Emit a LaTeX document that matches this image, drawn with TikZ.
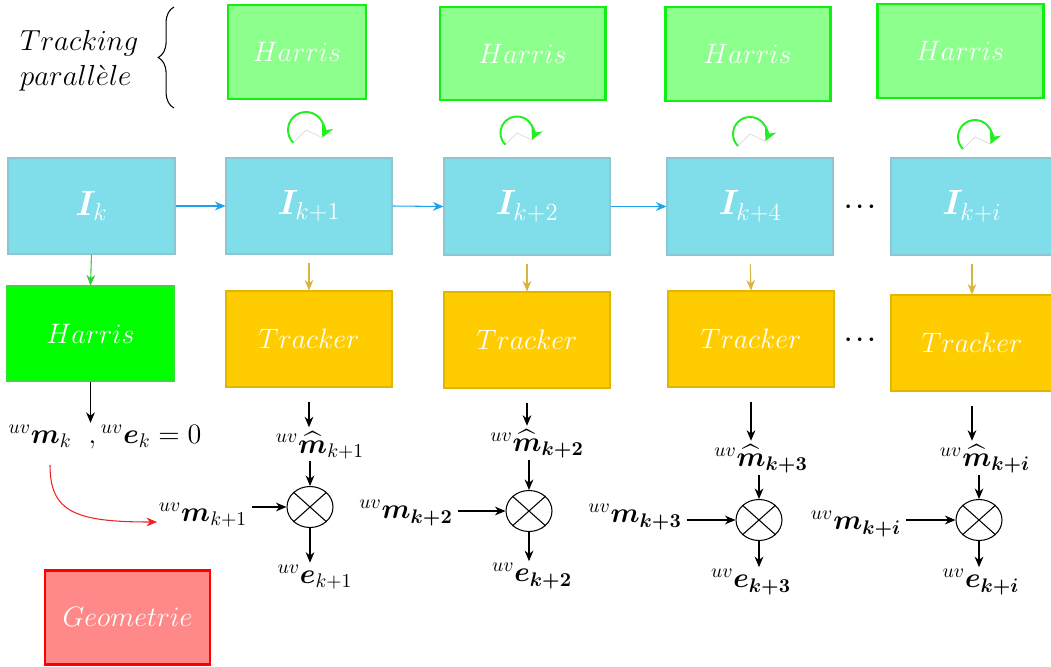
\RequirePackage{fix-cm}
\documentclass[tikz,border=0pt]{standalone}
\usepackage{amsmath,bm}
\usetikzlibrary{arrows.meta,decorations.pathreplacing,shapes.geometric,calc}
\definecolor{cyanfill}{HTML}{80DEEA}
\definecolor{cyanedge}{HTML}{8CC6D2}
\definecolor{harrlight}{HTML}{8CFF8C}
\definecolor{harredge}{HTML}{11EE11}
\definecolor{harrmaincol}{HTML}{00FF00}
\definecolor{harrmainedge}{HTML}{33DD33}
\definecolor{trackfill}{HTML}{FFCC00}
\definecolor{trackedge}{HTML}{E2B600}
\definecolor{geofill}{HTML}{FF8888}
\definecolor{geoedge}{HTML}{FF0000}
\definecolor{bluearr}{HTML}{1CA3EC}
\definecolor{goldarr}{HTML}{D8B440}
\definecolor{greenarr}{HTML}{33CC33}
\definecolor{arcgreen}{HTML}{22EE22}
\definecolor{redarr}{HTML}{EE2222}
\tikzset{
 nodebox/.style={inner sep=0pt, line width=0.6pt, text=white, font=\fontsize{16}{19}\selectfont},
 sz/.style 2 args={minimum width=#1*0.02cm, minimum height=#2*0.02cm},
 imgbox/.style={nodebox, fill=cyanfill, draw=cyanedge, font=\fontsize{20}{24}\selectfont},
 harrtop/.style={nodebox, fill=harrlight, draw=harredge, line width=1.7pt},
 harrbox/.style={nodebox, fill=harrmaincol, draw=harrmainedge},
 trackbox/.style={nodebox, fill=trackfill, draw=trackedge},
 geobox/.style={nodebox, fill=geofill, draw=geoedge, line width=1.7pt},
 lbl/.style={inner sep=1pt, font=\fontsize{16}{19}\selectfont},
 dotlbl/.style={inner sep=1pt, font=\fontsize{13}{15}\selectfont},
 arr/.style={-{Stealth[length=6pt,width=5pt]}, line width=0.6pt},
 blarr/.style={arr, draw=bluearr},
 gdarr/.style={arr, draw=goldarr},
 grarr/.style={arr, draw=greenarr},
 mult/.style={ellipse, draw, line width=0.6pt, minimum width=0.92cm, minimum height=0.82cm, inner sep=0pt},
 selfarc/.style={draw=arcgreen, line width=1.1pt, -{Stealth[length=7pt,width=7pt]}},
 vmark/.style={draw=gray!35, line width=0.3pt}
}
\newcommand{\crossin}[1]{\draw[line width=0.6pt] (#1.north east) -- (#1.south west) (#1.north west) -- (#1.south east);}
\newcommand{\selfloop}[3]{%
 \draw[vmark] (#1,#2) ++(225:#3) -- (#1,#2) -- ++(-25:#3);
 \draw[selfarc] (#1,#2) ++(225:#3) arc[start angle=225,end angle=-25,radius=#3];}
\begin{document}
\begin{tikzpicture}[x=0.02cm,y=0.02cm]
\useasboundingbox (0,0) rectangle (1051,-666);

% label Tracking parallele
\node[lbl, align=left, font=\fontsize{16.5}{17}\selectfont, anchor=west] (tp) at (18,-61) {$Tracking$\\[3pt]$parall\grave{e}le$};
\draw[decorate, decoration={brace, amplitude=9pt}, line width=0.6pt] (174,-108) -- (174,-7);

% top Harris boxes
\node[harrtop, sz={138}{94}] (HT1) at (297,-52) {$Harris$};
\node[harrtop, sz={165}{93}] (HT2) at (522.5,-53.5) {$Harris$};
\node[harrtop, sz={165}{94}] (HT3) at (747.5,-54) {$Harris$};
\node[harrtop, sz={166}{94}] (HT4) at (960,-51) {$Harris$};

% self loops
\selfloop{306}{-130}{0.36cm}
\selfloop{517}{-133}{0.33cm}
\selfloop{750}{-134}{0.34cm}
\selfloop{975}{-137}{0.34cm}

% image boxes
\node[imgbox, sz={167}{96}] (I0) at (91.5,-206) {$\bm{I}_k$};
\node[imgbox, sz={166}{96}] (I1) at (309,-206) {$\bm{I}_{k+1}$};
\node[imgbox, sz={166}{97}] (I2) at (527,-206.5) {$\bm{I}_{k+2}$};
\node[imgbox, sz={166}{97}] (I3) at (750,-206.5) {$\bm{I}_{k+4}$};
\node[imgbox, sz={162}{97}] (I4) at (972,-206.5) {$\bm{I}_{k+i}$};

\draw[blarr] (I0.east) -- (I1.west);
\draw[blarr] (I1.east) -- (I2.west);
\draw[blarr] (I2.east) -- (I3.west);
\node[dotlbl] (d1) at (862,-207) {$\boldsymbol{\cdots}$};

% Harris and trackers
\node[harrbox, sz={167}{95}] (HG) at (90.5,-333.5) {$Harris$};
\node[trackbox, sz={166}{96}] (T1) at (309,-339) {$Tracker$};
\node[trackbox, sz={166}{96}] (T2) at (527,-340) {$Tracker$};
\node[trackbox, sz={166}{96}] (T3) at (751,-339) {$Tracker$};
\node[trackbox, sz={162}{96}] (T4) at (972,-343) {$Tracker$};
\node[dotlbl] (d2) at (862,-340) {$\boldsymbol{\cdots}$};

\draw[grarr] (I0.south) -- (HG.north);
\draw[gdarr, shorten <=5pt] (I1.south) -- (T1.north);
\draw[gdarr, shorten <=5pt] (I2.south) -- (T2.north);
\draw[gdarr, shorten <=5pt] (I3.south) -- (T3.north);
\draw[gdarr, shorten <=5pt] (I4.south) -- (T4.north);

% Geometrie
\node[geobox, sz={165}{94}] (GEO) at (127.5,-617) {$Geometrie$};

% measurement labels
\node[lbl] (mk) at (105,-437) {$^{uv}\bm{m}_k\ \ ,{}^{uv}\bm{e}_k=0$};
\node[lbl] (mk1) at (203,-515) {$^{uv}\bm{m}_{k+1}$};
\node[lbl] (mk2) at (406,-513) {$^{uv}\bm{m}_{\bm{k+2}}$};
\node[lbl] (mk3) at (635,-517) {$^{uv}\bm{m}_{\bm{k+3}}$};
\node[lbl] (mk4) at (856,-524) {$^{uv}\bm{m}_{\bm{k+i}}$};

\node[lbl] (h1) at (320,-445) {$^{uv}\widehat{\bm{m}}_{k+1}$};
\node[lbl] (h2) at (537,-444) {$^{uv}\widehat{\bm{m}}_{\bm{k+2}}$};
\node[lbl] (h3) at (761,-459) {$^{uv}\widehat{\bm{m}}_{\bm{k+3}}$};
\node[lbl] (h4) at (985,-459) {$^{uv}\widehat{\bm{m}}_{\bm{k+i}}$};

\node[mult] (c1) at (310,-507) {};
\node[mult] (c2) at (529,-511) {};
\node[mult] (c3) at (759,-520) {};
\node[mult] (c4) at (979,-520) {};
\crossin{c1}\crossin{c2}\crossin{c3}\crossin{c4}

\node[lbl] (e1) at (315,-577) {$^{uv}\bm{e}_{k+1}$};
\node[lbl] (e2) at (532,-576) {$^{uv}\bm{e}_{\bm{k+2}}$};
\node[lbl] (e3) at (751,-582) {$^{uv}\bm{e}_{\bm{k+3}}$};
\node[lbl] (e4) at (981,-582) {$^{uv}\bm{e}_{\bm{k+i}}$};

% black arrows
\draw[arr] (HG.south) -- (HG.south |- mk.north);
\draw[arr, shorten <=8pt, shorten >=1pt] (T1.south) -- (T1.south |- h1.north);
\draw[arr, shorten <=8pt, shorten >=1pt] (T2.south) -- (T2.south |- h2.north);
\draw[arr, shorten <=8pt, shorten >=1pt] (T3.south) -- (T3.south |- h3.north);
\draw[arr, shorten <=8pt, shorten >=1pt] (T4.south) -- (T4.south |- h4.north);
\foreach \j in {1,2,3,4}{
  \draw[arr] (c\j.north |- h\j.south) -- (c\j.north);
  \draw[arr] (c\j.south) -- (c\j.south |- e\j.north);
  \draw[arr] ($(mk\j.east |- c\j.west)+(3,0)$) -- (c\j.west);
}

% red curve
\coordinate (rs) at (50,-465);
\coordinate (re) at (157,-522);
\draw[arr, draw=redarr] (rs) .. controls (50,-512) and (75,-522) .. (re);
\end{tikzpicture}
\end{document}
